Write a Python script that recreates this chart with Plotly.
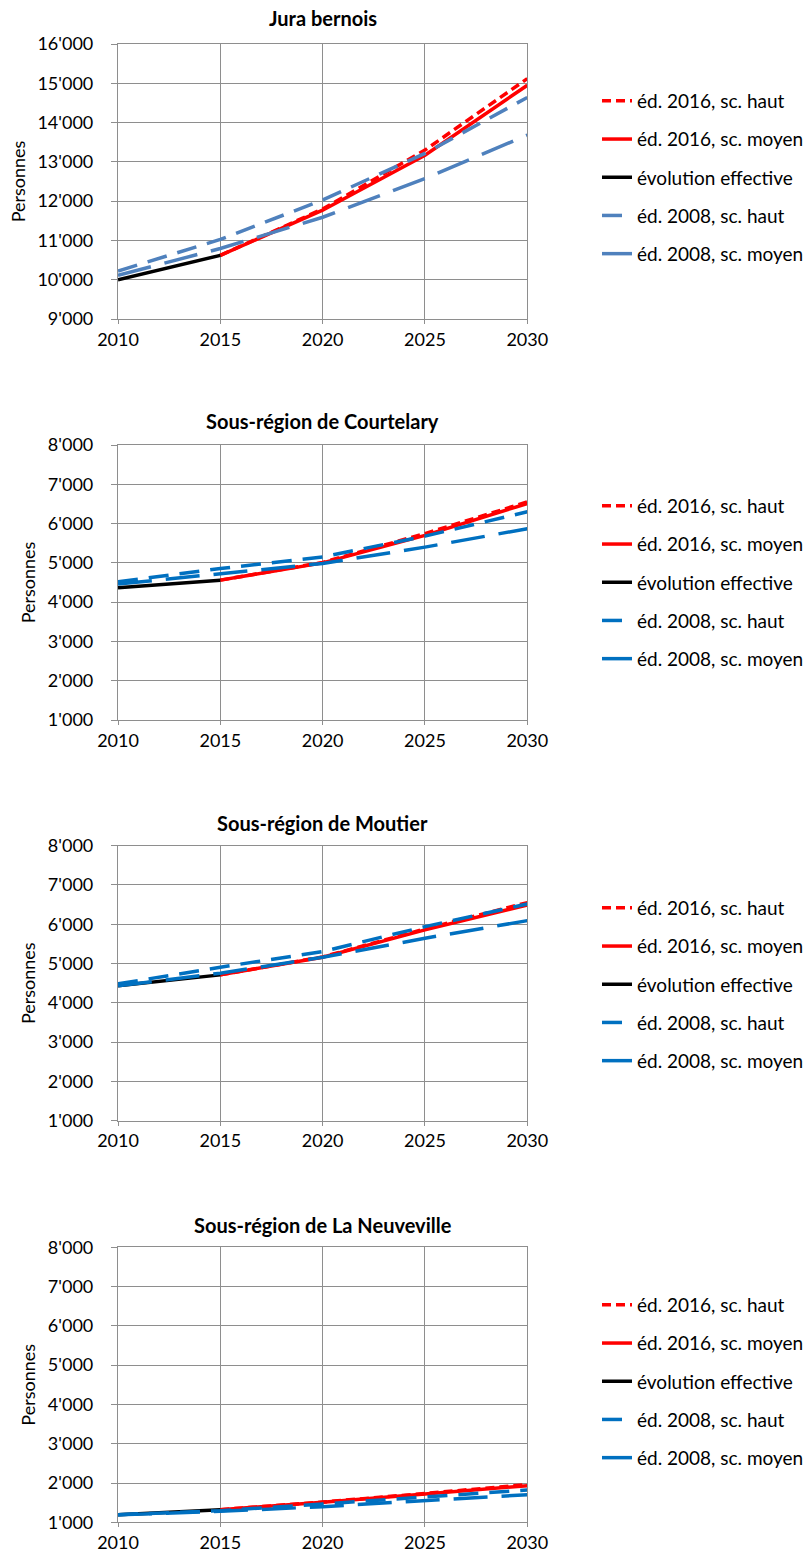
import plotly.graph_objects as go

# ---------------- data ----------------
years_hist = [2010, 2015]
years_ed2016 = [2015, 2020, 2025, 2030]
years_ed2008 = [2010, 2015, 2020, 2025, 2030]

titles = ["Jura bernois", "Sous-région de Courtelary",
          "Sous-région de Moutier", "Sous-région de La Neuveville"]

series_names = ["éd. 2016, sc. haut", "éd. 2016, sc. moyen", "évolution effective",
                "éd. 2008, sc. haut", "éd. 2008, sc. moyen"]

# Jura bernois
jb_hist = [10000, 10620]
jb_ed2016_haut = [10620, 11800, 13300, 15120]
jb_ed2016_moyen = [10620, 11770, 13170, 14950]
jb_ed2008_haut = [10220, 11025, 12030, 13215, 14640]
jb_ed2008_moyen = [10110, 10795, 11590, 12577, 13680]

# Sous-région de Courtelary
co_hist = [4364, 4560]
co_ed2016_haut = [4560, 5010, 5745, 6550]
co_ed2016_moyen = [4560, 5000, 5700, 6510]
co_ed2008_haut = [4517, 4856, 5150, 5680, 6300]
co_ed2008_moyen = [4460, 4730, 4985, 5400, 5870]

# Sous-région de Moutier
mo_hist = [4432, 4712]
mo_ed2016_haut = [4712, 5170, 5880, 6550]
mo_ed2016_moyen = [4712, 5161, 5856, 6492]
mo_ed2008_haut = [4483, 4907, 5305, 5940, 6517]
mo_ed2008_moyen = [4432, 4754, 5161, 5644, 6093]

# Sous-région de La Neuveville
ne_hist = [1195, 1322]
ne_ed2016_haut = [1322, 1515, 1735, 1958]
ne_ed2016_moyen = [1322, 1508, 1720, 1932]
ne_ed2008_haut = [1195, 1297, 1466, 1636, 1822]
ne_ed2008_moyen = [1190, 1280, 1398, 1555, 1703]

y_ranges = [[9000, 16000], [1000, 8000], [1000, 8000], [1000, 8000]]

charts = [
    (jb_ed2016_haut, jb_ed2016_moyen, jb_hist, jb_ed2008_haut, jb_ed2008_moyen),
    (co_ed2016_haut, co_ed2016_moyen, co_hist, co_ed2008_haut, co_ed2008_moyen),
    (mo_ed2016_haut, mo_ed2016_moyen, mo_hist, mo_ed2008_haut, mo_ed2008_moyen),
    (ne_ed2016_haut, ne_ed2016_moyen, ne_hist, ne_ed2008_haut, ne_ed2008_moyen),
]

# ---------------- layout constants ----------------
W, H = 808, 1557
FONT = "Lato"
GRID = "#8e8e8e"
RED = "#FF0000"
BLACK = "#000000"
BLUES = ["#4F81BD", "#0070C0", "#0070C0", "#0070C0"]

x_px = (118, 527.3)
plot_tops = [44, 445, 845.7, 1247.3]
plot_h = 275
title_y = [18, 421, 823, 1225]
legend_first = [101, 506, 908, 1305]

def py(p):
    return 1 - p / H

fig = go.Figure()

for i, (s_haut16, s_moy16, s_hist, s_haut08, s_moy08) in enumerate(charts):
    n = i + 1
    xa = "x" if n == 1 else f"x{n}"
    ya = "y" if n == 1 else f"y{n}"
    leg = "legend" if n == 1 else f"legend{n}"
    blue = BLUES[i]
    specs = [
        (years_ed2016, s_haut16, RED, "9px,5px"),
        (years_ed2016, s_moy16, RED, "solid"),
        (years_hist, s_hist, BLACK, "solid"),
        (years_ed2008, s_haut08, blue, "20px,11px"),
        (years_ed2008, s_moy08, blue, "34px,14px"),
    ]
    for k, (xs, ys, col, dash) in enumerate(specs):
        fig.add_trace(go.Scatter(
            x=xs, y=ys, mode="lines", name=series_names[k],
            line=dict(color=col, width=3.5, dash=dash),
            xaxis=xa, yaxis=ya, legend=leg,
            legendgroup=f"c{n}_{k}", hoverinfo="skip",
        ))

    top = plot_tops[i]
    bottom = top + plot_h
    xkey = "xaxis" if n == 1 else f"xaxis{n}"
    ykey = "yaxis" if n == 1 else f"yaxis{n}"
    fig.layout[xkey] = dict(
        domain=[x_px[0] / W, x_px[1] / W], anchor=ya,
        range=[2010, 2030], tick0=2010, dtick=5,
        showgrid=True, gridcolor=GRID, gridwidth=1.2,
        showline=True, linecolor=GRID, linewidth=1.2, mirror=True,
        ticks="outside", ticklen=4, tickcolor=GRID, tickwidth=1.2,
        tickfont=dict(family=FONT, size=18, color="#000"),
        ticklabelstandoff=0, zeroline=False, fixedrange=True,
    )
    fig.layout[ykey] = dict(
        domain=[py(bottom), py(top)], anchor=xa,
        range=y_ranges[i], dtick=1000, tickformat=",d",
        showgrid=True, gridcolor=GRID, gridwidth=1.2,
        showline=True, linecolor=GRID, linewidth=1.2, mirror=True,
        ticks="outside", ticklen=6, tickcolor=GRID, tickwidth=1.2,
        tickfont=dict(family=FONT, size=18, color="#000"),
        ticklabelstandoff=14, zeroline=False, fixedrange=True,
        title=dict(text="Personnes", font=dict(family=FONT, size=18, color="#000"),
                   standoff=7),
    )
    fig.add_annotation(
        text=f"<b>{titles[i]}</b>", xref="paper", yref="paper",
        x=(x_px[0] + x_px[1]) / 2 / W, y=py(title_y[i]),
        xanchor="center", yanchor="middle", showarrow=False,
        font=dict(family=FONT, size=20, color="#000"),
    )
    fig.layout[leg] = dict(
        x=597 / W, y=py(legend_first[i] - 19), xanchor="left", yanchor="top",
        font=dict(family=FONT, size=19, color="#000"),
        bgcolor="rgba(0,0,0,0)", tracegroupgap=10.5, itemwidth=30,
        traceorder="grouped",
    )

fig.update_layout(
    width=W, height=H, autosize=False,
    margin=dict(l=0, r=0, t=0, b=0, autoexpand=False),
    paper_bgcolor="white", plot_bgcolor="white",
    separators=".'",
    showlegend=True,
    font=dict(family=FONT, size=18, color="#000"),
)

fig.write_html("out.html", post_script="document.body.style.margin='0';",
               config={"displayModeBar": False})
